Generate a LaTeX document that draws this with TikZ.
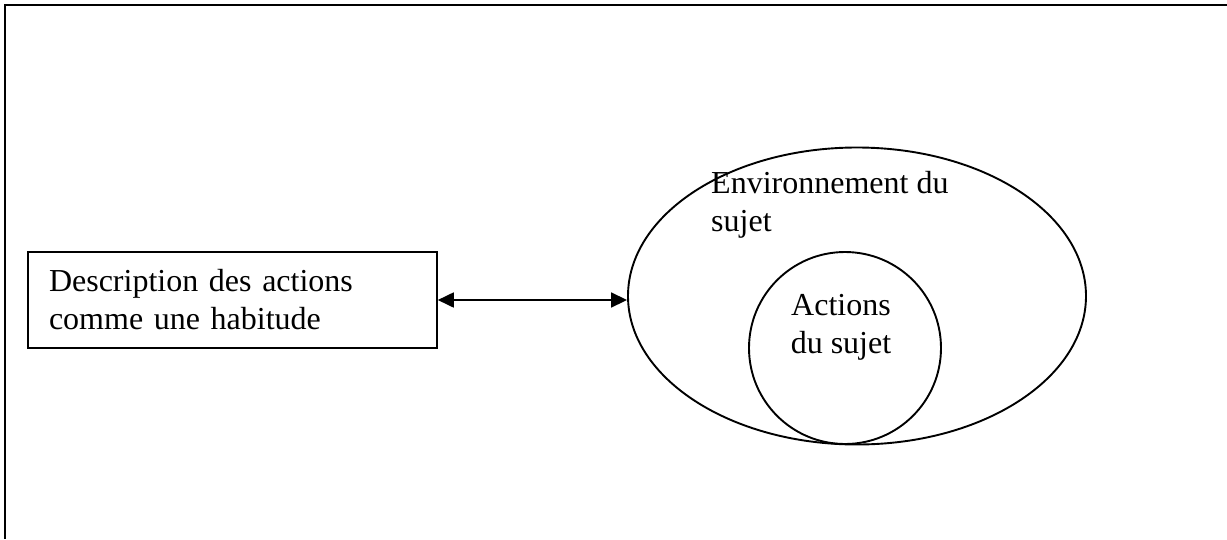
\documentclass[tikz,border=0pt]{standalone}
\usepackage{fontspec}
\setmainfont{Liberation Serif}
\usetikzlibrary{arrows.meta,positioning,shapes.geometric}

\begin{document}
\begin{tikzpicture}[x=1pt,y=-1pt,every node/.style={font=\fontsize{32}{38}\selectfont},box/.style={draw,line width=1.6pt,align=left,minimum width=409pt,minimum height=96pt,text width=367pt,inner xsep=21pt},oval/.style={draw,line width=1.9pt,ellipse,minimum width=458pt,minimum height=297pt,inner sep=0pt},disc/.style={draw,line width=1.9pt,circle,minimum size=192pt,inner sep=0pt},lbl/.style={inner sep=0pt,align=left},arr/.style={{Triangle[length=16pt,width=15pt]}-{Triangle[length=16pt,width=15pt]},line width=1.8pt}]
\useasboundingbox (0,0) rectangle (1227,539);
% frame
\draw[line width=2.4pt] (1227,5) -- (5,5) -- (5,539);
\node[box] (desc) at (232.5,300) {Description des actions\\comme une habitude};
\node[oval] (env) at (857,296) {};
\node[disc] (act) at (845,348) {};
\node[lbl,anchor=north west] (envtxt) at (711,171) {Environnement du\\sujet};
\node[lbl,align=center] (acttxt) at (841,327) {Actions\\du sujet};
\draw[arr] (desc.east) -- (desc.east -| env.west);
\end{tikzpicture}
\end{document}
